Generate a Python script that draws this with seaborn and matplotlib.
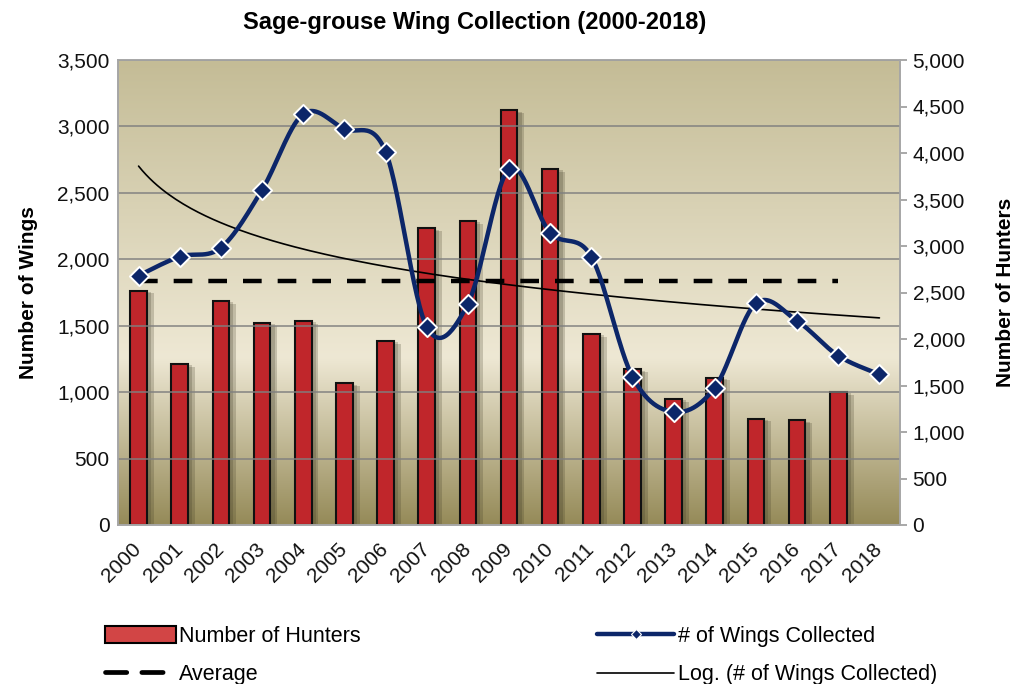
import numpy as np
import pandas as pd
import matplotlib
matplotlib.use("Agg")
import matplotlib.pyplot as plt
import seaborn as sns
from matplotlib.patches import Patch
from matplotlib.lines import Line2D
from matplotlib import patheffects as pe
from matplotlib.colors import LinearSegmentedColormap

# ---------------- data ----------------
years = [str(y) for y in range(2000, 2019)]
hunter_years = [str(y) for y in range(2000, 2018)]
hunters = [2520, 1730, 2410, 2175, 2195, 1525, 1980, 3190, 3270, 4460,
           3830, 2055, 1675, 1355, 1585, 1145, 1125, 1430]
wings = [1877, 2020, 2087, 2522, 3094, 2981, 2810, 1493, 1664, 2680,
         2200, 2020, 1116, 851, 1034, 1669, 1536, 1274, 1134]
average_wings = [1840] * 18
left_ticks = list(range(0, 3501, 500))
right_ticks = list(range(0, 5001, 500))

title = "Sage-grouse Wing Collection (2000-2018)"

# ---------------- style ----------------
sns.set_style("white")
plt.rcParams["font.family"] = ["Liberation Sans", "DejaVu Sans"]
plt.rcParams["text.color"] = "black"
plt.rcParams["axes.labelcolor"] = "black"

W, H = 1019, 684
fig = plt.figure(figsize=(W / 100, H / 100), dpi=100)
L, R, B, T = 118 / W, 900 / W, 1 - 525 / H, 1 - 60 / H
ax = fig.add_axes([L, B, R - L, T - B])   # wings (left axis)
ax2 = ax.twinx()                           # hunters (right axis)
ax.set_zorder(3)
ax.patch.set_visible(False)
ax2.set_zorder(1)

# background gradient
cmap = LinearSegmentedColormap.from_list(
    "bg", [(0.0, "#958a58"), (0.36, "#eee8d4"), (1.0, "#c4bc96")])
grad = np.linspace(0, 1, 256).reshape(-1, 1)
ax2.imshow(grad, cmap=cmap, origin="lower", aspect="auto",
           extent=[0, 1, 0, 1], transform=ax2.transAxes, zorder=0)

# bars (hunters)
df_h = pd.DataFrame({"year": hunter_years, "hunters": hunters})
sns.barplot(data=df_h, x="year", y="hunters", order=years, ax=ax2,
            color="#c0262b", saturation=1, width=0.405,
            edgecolor="#111111", linewidth=1.5, zorder=2)
for p in ax2.patches:
    p.set_path_effects([pe.SimplePatchShadow(offset=(5, -2), shadow_rgbFace="#3a3520",
                                             alpha=0.22),
                        pe.SimplePatchShadow(offset=(3, -1), shadow_rgbFace="#3a3520",
                                             alpha=0.22),
                        pe.Normal()])

n = len(years)
xs = np.arange(n)

# gridlines on left axis
for v in left_ticks[1:]:
    ax.axhline(v, color="#7f7f7f", lw=1.4, alpha=0.75, zorder=1)

# average
xa = np.arange(len(average_wings))
ax.plot(xa, average_wings, color="black", lw=3.2, dashes=(4.2, 3.6), zorder=3)

# log trendline fitted to wings
coef = np.polyfit(np.log(xs + 1), wings, 1)
xt = np.linspace(0, n - 1, 200)
ax.plot(xt, coef[0] * np.log(xt + 1) + coef[1], color="black", lw=1.2, zorder=3)

# smoothed line through wing values (Bezier / Catmull-Rom as in spreadsheet smoothing)
pts = np.column_stack([xs, np.array(wings, dtype=float)])
curve = []
for i in range(n - 1):
    p0 = pts[i]
    p3 = pts[i + 1]
    pm = pts[i - 1] if i > 0 else pts[i]
    pp = pts[i + 2] if i + 2 < n else pts[i + 1]
    c1 = p0 + (p3 - pm) / 6.0
    c2 = p3 - (pp - p0) / 6.0
    t = np.linspace(0, 1, 30)[:, None]
    seg = ((1 - t) ** 3) * p0 + 3 * ((1 - t) ** 2) * t * c1 + 3 * (1 - t) * t ** 2 * c2 + t ** 3 * p3
    curve.append(seg if i == 0 else seg[1:])
curve = np.vstack(curve)
ax.plot(curve[:, 0], curve[:, 1], color="#0c2669", lw=3.2, zorder=4,
        solid_capstyle="round")
sns.scatterplot(x=xs, y=wings, ax=ax, marker="D", s=95, color="#0c2669",
                edgecolor="white", linewidth=1.4, zorder=5, legend=False)

# axes limits / ticks
ax.set_xlim(-0.5, n - 0.5)
ax.set_ylim(0, 3500)
ax2.set_ylim(0, 5000)
ax.set_yticks(left_ticks)
ax.set_yticklabels([f"{v:,}" for v in left_ticks], fontsize=15, color="#111111")
ax2.set_yticks(right_ticks)
ax2.set_yticklabels([f"{v:,}" for v in right_ticks], fontsize=15, color="#111111")
ax.set_xticks(xs)
ax.set_xticklabels(years, rotation=45, ha="right", va="center",
                   rotation_mode="anchor", fontsize=15, color="#111111")
ax.set_xticks(np.arange(-0.5, n, 1), minor=True)
ax.tick_params(axis="x", which="major", length=0, pad=15)
ax.tick_params(axis="x", which="minor", length=5, color="#9a9a9a", width=1.2)
ax.tick_params(axis="y", length=0, pad=6)
ax2.tick_params(axis="y", length=5, color="#9a9a9a", width=1.2, pad=4, direction="out")
ax.set_xlabel("")
ax2.set_xlabel("")
ax.set_ylabel("Number of Wings", fontsize=15, fontweight="bold", labelpad=14, color="black")
ax2.set_ylabel("Number of Hunters", fontsize=15, fontweight="bold", labelpad=22, color="black")
ax2.yaxis.label.set_rotation(90)
ax.grid(False)
ax2.grid(False)
for a in (ax, ax2):
    for s in a.spines.values():
        s.set_color("#a6a6a6")
        s.set_linewidth(1.2)

fig.text(475 / W, 1 - 22 / H, title, ha="center", va="center",
         fontsize=17, fontweight="bold", color="black")

# legend
h1 = [Patch(facecolor="#d24545", edgecolor="black", linewidth=1.5, label="Number of Hunters"),
      Line2D([], [], color="black", lw=3.4, dashes=(4.5, 3.2), dash_capstyle="round",
             label="Average")]
h2 = [Line2D([], [], color="#0c2669", lw=3.2, marker="D", ms=5, mfc="#0c2669",
             mec="white", mew=0.8, label="# of Wings Collected"),
      Line2D([], [], color="black", lw=1.2, label="Log. (# of Wings Collected)")]
leg1 = fig.legend(handles=h1, loc="upper left", bbox_to_anchor=(92 / W, 1 - 613 / H),
                  frameon=False, fontsize=15.5, handlelength=3.3, handleheight=0.85,
                  labelspacing=0.8, handletextpad=0.15, borderaxespad=0.2,
                  labelcolor="black")
leg2 = fig.legend(handles=h2, loc="upper left", bbox_to_anchor=(584 / W, 1 - 613 / H),
                  frameon=False, fontsize=15.5, handlelength=3.6,
                  labelspacing=0.8, handletextpad=0.15, borderaxespad=0.2,
                  labelcolor="black")

fig.savefig("out.png", dpi=100, facecolor="white")
